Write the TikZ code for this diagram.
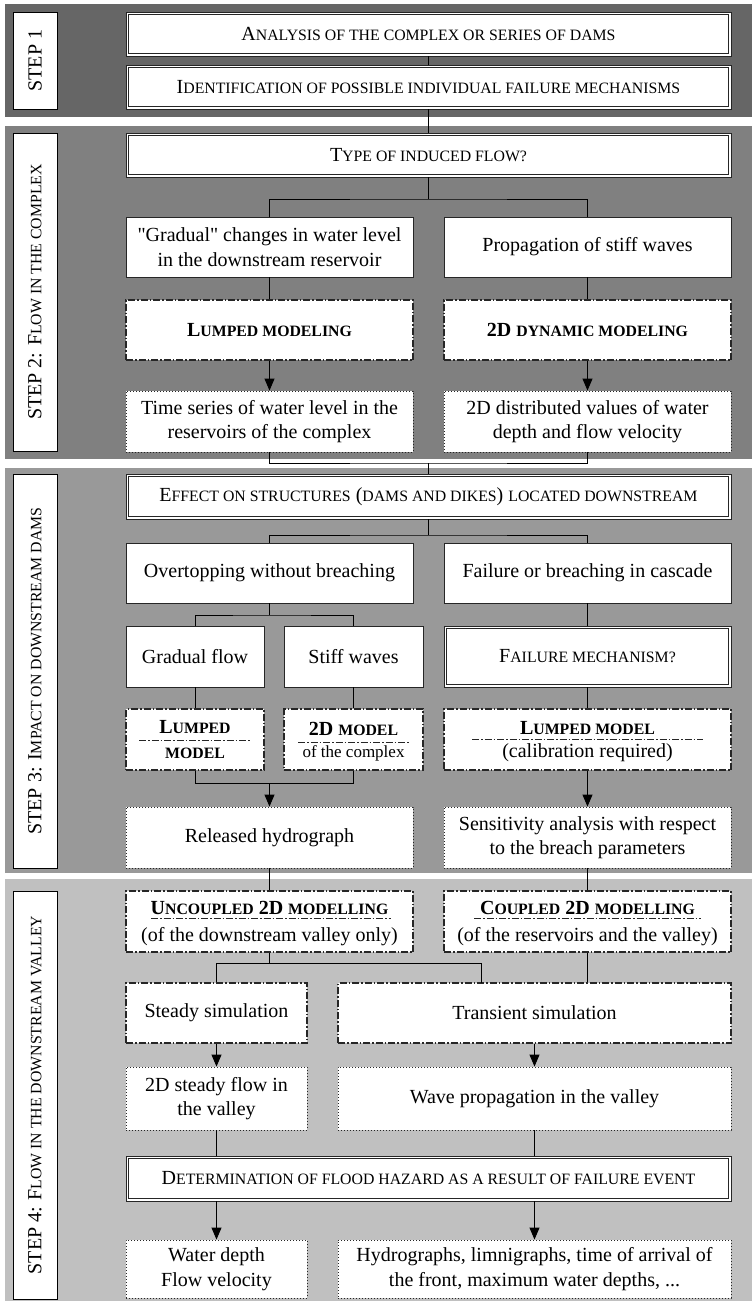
\documentclass[tikz,border=0pt]{standalone}
\usepackage{fontspec}
\setmainfont{Liberation Serif}
\usetikzlibrary{arrows.meta}
\font\qfont="Liberation Serif" at 20pt
\newcommand\sq{{\qfont\symbol{34}}}
\newcommand\sm[1]{{\fontsize{15.8}{18}\selectfont #1}}
\newcommand\smr[1]{{\fontsize{17}{20}\selectfont #1}}
\newcommand\bx[7]{\node[#1, minimum width={#5-#3}, minimum height={#6-#4}] (#2) at ({(#3+#5)/2},{(#4+#6)/2}) {#7};}
\newcommand\dblin[1]{\draw[draw=black!85, line width=0.8pt] ([shift={(2.7,2.7)}]#1.north west) rectangle ([shift={(-2.7,-2.7)}]#1.south east);}
\definecolor{pone}{HTML}{666666}
\definecolor{ptwo}{HTML}{808080}
\definecolor{pthree}{HTML}{999999}
\definecolor{pfour}{HTML}{C0C0C0}
\begin{document}
\begin{tikzpicture}[x=1pt,y=-1pt,
  font=\fontsize{20}{24.5}\selectfont,
  base/.style={fill=white, draw=black!85, line width=0.9pt, inner sep=0pt, align=center, anchor=center},
  plain/.style={base},
  dbl/.style={base, line width=0.9pt},
  ddot/.style={base, line width=1.1pt, dash pattern=on 7pt off 2pt on 1.5pt off 2pt},
  dott/.style={base, dash pattern=on 1pt off 2pt},
  lbl/.style={fill=white, draw=black, line width=0.9pt, inner sep=0pt, rotate=90},
  divl/.style={draw=black!85, line width=1pt, dash pattern=on 7pt off 2pt on 1.5pt off 2pt},
  conn/.style={draw=black, line width=1pt},
  arr/.style={conn, -{Triangle[length=12pt,width=10pt]}},
]
\useasboundingbox (0,0) rectangle (752,1301);
\fill[white] (0,0) rectangle (752,1301);
% panels
\fill[pone] (5,4) rectangle (752,117);
\fill[ptwo] (5,126) rectangle (752,459);
\fill[pthree] (5,468) rectangle (752,873);
\fill[pfour] (5,879) rectangle (752,1301);
% step labels
\node[lbl, minimum width=97, minimum height=44] (s1) at (35,60.5) {STEP 1};
\node[lbl, minimum width=318, minimum height=44] (s2) at (35,292) {STEP 2: F\sm{LOW IN THE COMPLEX}};
\node[lbl, minimum width=394, minimum height=44] (s3) at (35,671) {STEP 3: I\sm{MPACT ON DOWNSTREAM DAMS}};
\node[lbl, minimum width=408, minimum height=44] (s4) at (35,1095) {STEP 4: F\sm{LOW IN THE DOWNSTREAM VALLEY}};
% step 1
\bx{dbl}{analysis}{126}{12}{731}{56}{A\sm{NALYSIS OF THE COMPLEX OR SERIES OF DAMS}}
\bx{dbl}{ident}{126}{65}{731}{109}{I\sm{DENTIFICATION OF POSSIBLE INDIVIDUAL FAILURE MECHANISMS}}
% step 2
\bx{dbl}{type}{126}{133}{731}{177}{T\sm{YPE OF INDUCED FLOW?}}
\bx{plain}{gradual}{126}{217}{413}{277}{\sq Gradual\sq{} changes in water level\\in the downstream reservoir}
\bx{plain}{propag}{444}{217}{731}{277}{Propagation of stiff waves}
\bx{ddot}{lumped}{126}{300}{413}{360}{\bfseries L\sm{UMPED MODELING}}
\bx{ddot}{dyn}{444}{300}{731}{360}{\bfseries 2D \sm{DYNAMIC MODELING}}
\bx{dott}{tseries}{126}{391}{413}{452}{Time series of water level in the\\reservoirs of the complex}
\bx{dott}{distrib}{444}{391}{731}{452}{2D distributed values of water\\depth and flow velocity}
% step 3
\bx{dbl}{effect}{126}{474}{731}{519}{E\sm{FFECT ON STRUCTURES} (\sm{DAMS AND DIKES}) \sm{LOCATED DOWNSTREAM}}
\bx{plain}{overtop}{126}{543}{413}{603}{Overtopping without breaching}
\bx{plain}{failure}{444}{543}{731}{603}{Failure or breaching in cascade}
\bx{plain}{gflow}{126}{626}{264}{687}{Gradual flow}
\bx{plain}{stiff}{284}{626}{423}{687}{Stiff waves}
\bx{dbl}{failmech}{444}{626}{731}{687}{F\sm{AILURE MECHANISM?}}
\bx{ddot}{lmodel}{126}{709}{264}{770}{}
\bx{ddot}{model2d}{284}{709}{423}{770}{}
\bx{ddot}{lcal}{444}{709}{731}{770}{}
\node[anchor=base] (lmA) at (195,733) {\bfseries L\sm{UMPED}};
\node[anchor=base] (lmB) at (195,758) {\bfseries\sm{MODEL}};
\draw[divl] (139,740) -- (251,740);
\node[anchor=base] (mdA) at (353.5,735) {\bfseries 2D \sm{MODEL}};
\node[anchor=base] (mdB) at (353.5,757) {\smr{of the complex}};
\draw[divl] (298,742) -- (409,742);
\node[anchor=base] (lcA) at (587.5,734) {\bfseries L\sm{UMPED MODEL}};
\node[anchor=base] (lcB) at (587.5,757) {(calibration required)};
\draw[divl] (472,739) -- (703,739);
\bx{dott}{released}{126}{807}{413}{868}{Released hydrograph}
\bx{dott}{sensit}{444}{807}{731}{868}{Sensitivity analysis with respect\\to the breach parameters}
% step 4
\bx{ddot}{uncoupled}{126}{891}{413}{952}{}
\bx{ddot}{coupled}{444}{891}{731}{952}{}
\node[anchor=base] (ucA) at (269.5,914) {\bfseries U\sm{NCOUPLED} 2D \sm{MODELLING}};
\node[anchor=base] (ucB) at (269.5,941) {(of the downstream valley only)};
\draw[divl] (151,918) -- (391,918);
\node[anchor=base] (cpA) at (587.5,914) {\bfseries C\sm{OUPLED} 2D \sm{MODELLING}};
\node[anchor=base] (cpB) at (587.5,941) {(of the reservoirs and the valley)};
\draw[divl] (474,918) -- (701,918);
\bx{ddot}{steady}{126}{983}{307}{1043}{Steady simulation}
\bx{ddot}{transient}{338}{983}{731}{1043}{Transient simulation}
\bx{dott}{steadyflow}{126}{1067}{307}{1130}{2D steady flow in\\the valley}
\bx{dott}{wave}{338}{1067}{731}{1130}{Wave propagation in the valley}
\bx{dbl}{determ}{126}{1156}{731}{1201}{D\sm{ETERMINATION OF FLOOD HAZARD AS A RESULT OF FAILURE EVENT}}
\bx{dott}{wdepth}{126}{1240}{307}{1298}{Water depth\\Flow velocity}
\bx{dott}{hydro}{338}{1240}{731}{1298}{Hydrographs, limnigraphs, time of arrival of\\the front, maximum water depths, ...}
% inner lines of double boxes
\dblin{analysis}
\dblin{ident}
\dblin{type}
\dblin{effect}
\dblin{failmech}
\dblin{determ}
% connectors
\coordinate (b1) at (428.5,199);
\coordinate (b2) at (428.5,463);
\coordinate (b3) at (428.5,535);
\coordinate (b4) at (269.5,615);
\coordinate (b5) at (269.5,783);
\coordinate (b6) at (269.5,963);
\coordinate (tin) at (481,983);
\draw[conn] (analysis) -- (ident);
\draw[conn] (ident) -- (type);
\draw[conn] (type.south) -- (b1);
\draw[conn] (gradual.north) |- (b1) -| (propag.north);
\draw[conn] (gradual) -- (lumped);
\draw[conn] (propag) -- (dyn);
\draw[arr] (lumped) -- (tseries);
\draw[arr] (dyn) -- (distrib);
\draw[conn] (tseries.south) |- (b2) -| (distrib.south);
\draw[conn] (b2) -- (effect.north);
\draw[conn] (effect.south) -- (b3);
\draw[conn] (overtop.north) |- (b3) -| (failure.north);
\draw[conn] (overtop.south) -- (b4);
\draw[conn] (gflow.north) |- (b4) -| (stiff.north);
\draw[conn] (failure) -- (failmech);
\draw[conn] (gflow) -- (lmodel);
\draw[conn] (stiff) -- (model2d);
\draw[conn] (failmech) -- (lcal);
\draw[conn] (lmodel.south) |- (b5) -| (model2d.south);
\draw[arr] (b5) -- (released.north);
\draw[arr] (lcal) -- (sensit);
\draw[conn] (released) -- (uncoupled);
\draw[conn] (sensit) -- (coupled);
\draw[conn] (uncoupled.south) -- (b6);
\draw[conn] (steady.north) |- (b6) -| (tin);
\draw[conn] (coupled.south) -- (coupled.south |- transient.north);
\draw[arr] (steady) -- (steadyflow);
\draw[arr] (transient) -- (wave);
\draw[conn] (steadyflow.south) -- (steadyflow.south |- determ.north);
\draw[conn] (wave.south) -- (wave.south |- determ.north);
\draw[arr] (determ.south -| wdepth.north) -- (wdepth.north);
\draw[arr] (determ.south -| hydro.north) -- (hydro.north);
\end{tikzpicture}
\end{document}
